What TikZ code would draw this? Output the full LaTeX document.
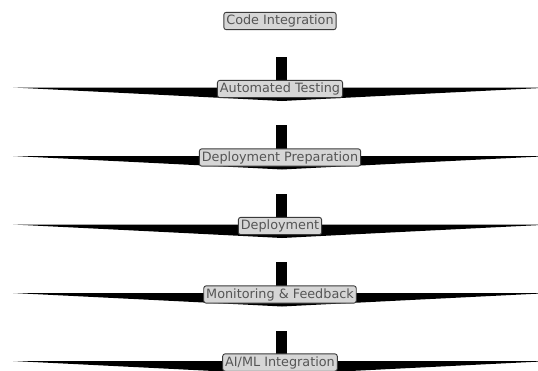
\documentclass[tikz,border=0pt]{standalone}
\usepackage{fontspec}
\setmainfont{DejaVu Sans}
\usetikzlibrary{calc}
\pgfdeclarelayer{bg}
\pgfsetlayers{bg,main}
\definecolor{boxfill}{HTML}{D6D6D6}
\definecolor{boxedge}{HTML}{3A3A3A}
\definecolor{labeltext}{HTML}{555555}
\tikzset{
  stagebox/.style={draw=boxedge, fill=boxfill, line width=0.9pt, rounded corners=2.5pt,
    text=labeltext, font=\fontsize{12.8}{14}\selectfont, inner xsep=2.5pt, inner ysep=2.5pt},
  flowfill/.style={fill=black}
}
\begin{document}
\begin{tikzpicture}[x=1pt,y=-1pt]
\useasboundingbox (0,0) rectangle (538,370);
\clip (0,0) rectangle (538,370);
\node[stagebox] (n1) at (280,21) {Code Integration};
\node[stagebox] (n2) at (280,89) {Automated Testing};
\node[stagebox] (n3) at (280,157.5) {Deployment Preparation};
\node[stagebox] (n4) at (280,226) {Deployment};
\node[stagebox] (n5) at (280,294.5) {Monitoring \& Feedback};
\node[stagebox] (n6) at (280,362.5) {AI/ML Integration};
\begin{pgfonlayer}{bg}
\foreach \s/\t in {n1/n2,n2/n3,n3/n4,n4/n5,n5/n6} {
  \fill[flowfill] ($(\s.center)+(-4,36)$) rectangle ($(\t.center)+(7,-1)$);
  \fill[flowfill] ($(\t.center)+(-267,-1.5)$) -- ($(\t.center)+(271,-1.5)$)
     .. controls ($(\t.center)+(140,5)$) and ($(\t.center)+(30,10.5)$) .. ($(\t.center)+(2,12)$)
     .. controls ($(\t.center)+(-26,10.5)$) and ($(\t.center)+(-136,5)$) .. cycle;
}
\end{pgfonlayer}
\end{tikzpicture}
\end{document}
